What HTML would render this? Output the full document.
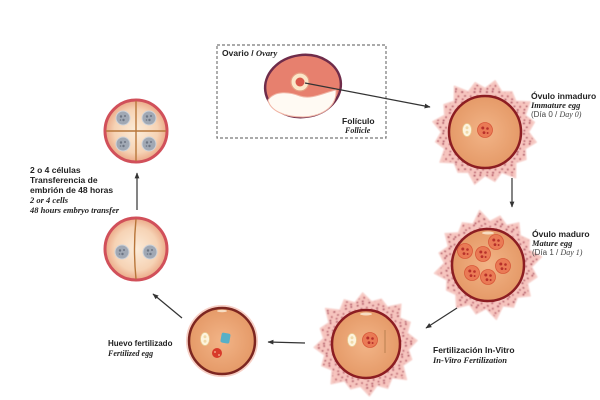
<!DOCTYPE html>
<html>
<head>
<meta charset="utf-8">
<style>
html,body{margin:0;padding:0;background:#fff;}
svg{display:block;}
.b{font-family:"Liberation Sans",sans-serif;font-weight:bold;fill:#222;}
.i{font-family:"Liberation Serif",serif;font-weight:bold;font-style:italic;fill:#222;}
.r{font-family:"Liberation Sans",sans-serif;fill:#444;}
.ri{font-family:"Liberation Serif",serif;font-style:italic;fill:#444;}
</style>
</head>
<body>
<svg width="600" height="400" viewBox="0 0 600 400" xmlns="http://www.w3.org/2000/svg">
<defs>
  <pattern id="dots" width="13" height="11" patternUnits="userSpaceOnUse">
    <rect width="13" height="11" fill="#f6c4be"/>
    <ellipse cx="2" cy="2" rx="1.2" ry="0.9" fill="#9e3049"/>
    <ellipse cx="8" cy="1.5" rx="1" ry="1.1" fill="#a83a52"/>
    <ellipse cx="5" cy="6" rx="1.1" ry="0.8" fill="#9e3049"/>
    <ellipse cx="11" cy="6.5" rx="0.9" ry="1.1" fill="#b04a5c"/>
    <ellipse cx="2.5" cy="9.5" rx="1" ry="0.8" fill="#a83a52"/>
    <ellipse cx="8.5" cy="9.8" rx="1.1" ry="0.9" fill="#9e3049"/>
  </pattern>
  <filter id="soft" x="-10%" y="-10%" width="120%" height="120%">
    <feGaussianBlur stdDeviation="0.5"/>
  </filter>
  <radialGradient id="egg" cx="50%" cy="50%" r="50%">
    <stop offset="0%" stop-color="#f2b487"/>
    <stop offset="100%" stop-color="#e59a68"/>
  </radialGradient>
  <radialGradient id="blast" cx="50%" cy="50%" r="50%">
    <stop offset="0%" stop-color="#fcecd9"/>
    <stop offset="70%" stop-color="#f6d3b5"/>
    <stop offset="100%" stop-color="#eba886"/>
  </radialGradient>
  <marker id="ah" viewBox="0 0 10 10" refX="9" refY="5" markerWidth="5" markerHeight="5" orient="auto">
    <path d="M0,1 L10,5 L0,9 z" fill="#333"/>
  </marker>
  <path id="cum" d="M46,0 L54,10.7 L42.5,17.6 L43.2,28.9 L32.5,32.5 L32.2,48.2 L17.6,42.5 L10.3,52 L0,46 L-10.9,54.9 L-17.6,42.5 L-28.4,42.4 L-32.5,32.5 L-47.4,31.7 L-42.5,17.6 L-52,10.3 L-46,0 L-54.9,-10.9 L-42.5,-17.6 L-43.2,-28.9 L-32.5,-32.5 L-32.2,-48.2 L-17.6,-42.5 L-10.3,-52 L0,-46 L10.7,-54 L17.6,-42.5 L28.4,-42.4 L32.5,-32.5 L47.4,-31.7 L42.5,-17.6 L52,-10.3 Z"/>
  <g id="nuc">
    <circle r="7.5" fill="#ea7a55" stroke="#d8583a" stroke-width="0.8"/>
    <circle cx="-2.2" cy="-2" r="1.5" fill="#b8302a"/>
    <circle cx="2.5" cy="-1.5" r="1.3" fill="#b8302a"/>
    <circle cx="-1" cy="2.6" r="1.4" fill="#b8302a"/>
    <circle cx="2.6" cy="3" r="1" fill="#b8302a"/>
  </g>
  <g id="wov">
    <ellipse rx="4.5" ry="6.5" fill="#fdf4de" stroke="#e9c98f" stroke-width="0.8"/>
    <circle cy="-2.3" r="1.5" fill="#f0d9a8"/>
    <circle cy="2.3" r="1.5" fill="#f0d9a8"/>
  </g>
  <g id="gnuc">
    <circle r="7" fill="#a0a8b4" stroke="#cfd3d9" stroke-width="1"/>
    <circle cx="-2" cy="-1.5" r="1.2" fill="#6d7583"/>
    <circle cx="2" cy="-2" r="1" fill="#6d7583"/>
    <circle cx="0.5" cy="2" r="1.2" fill="#6d7583"/>
    <circle cx="-2.5" cy="2" r="0.8" fill="#6d7583"/>
  </g>
</defs>

<!-- Ovary box -->
<rect x="217" y="45" width="169" height="93" fill="none" stroke="#777" stroke-width="1.2" stroke-dasharray="3,2"/>
<text x="222" y="56" font-size="8.5"><tspan class="b">Ovario / </tspan><tspan class="i">Ovary</tspan></text>
<ellipse cx="303" cy="86" rx="38" ry="31" transform="rotate(-8 303 86)" fill="#e7806e" stroke="#6f2c4a" stroke-width="2.5"/>
<path d="M268,100 C275,90 290,92 300,96 C312,100 325,92 336,90 C337,105 325,116 303,117 C283,117 270,110 268,100 Z" fill="#fffaf3" stroke="#f0b4a4" stroke-width="1"/>
<circle cx="300" cy="82" r="9" fill="#fbe7c8" stroke="#e59c80" stroke-width="1.2"/>
<circle cx="300" cy="82" r="4.5" fill="#d9574a"/>
<text x="342" y="124" class="b" font-size="8.5">Folículo</text>
<text x="345" y="133" class="i" font-size="8">Follicle</text>

<!-- Immature egg -->
<use href="#cum" transform="translate(485,132) scale(0.95)" fill="url(#dots)" stroke="#f8d2cd" stroke-width="1.5" stroke-linejoin="round" filter="url(#soft)"/>
<circle cx="485" cy="132" r="36" fill="url(#egg)" stroke="#8c1d22" stroke-width="2.5"/>
<use href="#wov" x="467" y="130"/>
<use href="#nuc" x="485" y="130"/>
<text x="531" y="99" class="b" font-size="8.5">Óvulo inmaduro</text>
<text x="531" y="108" class="i" font-size="8.5">Immature egg</text>
<text x="531" y="117" font-size="8"><tspan class="r">(Día 0 / </tspan><tspan class="ri">Day 0)</tspan></text>

<!-- Mature egg -->
<use href="#cum" transform="translate(488,265) rotate(25) scale(0.95)" fill="url(#dots)" stroke="#f8d2cd" stroke-width="1.5" stroke-linejoin="round" filter="url(#soft)"/>
<circle cx="488" cy="265" r="36" fill="url(#egg)" stroke="#8c1d22" stroke-width="2.5"/>
<ellipse cx="488" cy="233" rx="6" ry="1.5" fill="#f7ddc2"/>
<use href="#nuc" x="465" y="251"/>
<use href="#nuc" x="483" y="254"/>
<use href="#nuc" x="496" y="242"/>
<use href="#nuc" x="503" y="266"/>
<use href="#nuc" x="472" y="273"/>
<use href="#nuc" x="488" y="277"/>
<text x="532" y="237" class="b" font-size="8.5">Óvulo maduro</text>
<text x="532" y="246" class="i" font-size="8.5">Mature egg</text>
<text x="532" y="255" font-size="8"><tspan class="r">(Día 1 / </tspan><tspan class="ri">Day 1)</tspan></text>

<!-- IVF -->
<use href="#cum" transform="translate(366,344) rotate(-15) scale(0.93)" fill="url(#dots)" stroke="#f8d2cd" stroke-width="1.5" stroke-linejoin="round" filter="url(#soft)"/>
<circle cx="366" cy="344" r="34" fill="url(#egg)" stroke="#8c1d22" stroke-width="2.5"/>
<ellipse cx="366" cy="314" rx="6" ry="1.5" fill="#f7ddc2"/>
<use href="#wov" x="352" y="340"/>
<use href="#nuc" x="370" y="340"/>
<line x1="385" y1="330" x2="385" y2="353" stroke="#b98050" stroke-width="1"/>
<text x="433" y="353" class="b" font-size="8.5">Fertilización In-Vitro</text>
<text x="433" y="363" class="i" font-size="8.5">In-Vitro Fertilization</text>

<!-- Fertilized egg -->
<circle cx="222" cy="341" r="35" fill="none" stroke="#f7d0c6" stroke-width="2"/>
<circle cx="222" cy="341" r="33" fill="url(#egg)" stroke="#7d2620" stroke-width="2.5"/>
<ellipse cx="222" cy="311" rx="5" ry="1.3" fill="#f7ddc2"/>
<use href="#wov" x="205" y="339"/>
<rect x="221" y="333" width="9" height="10" rx="2" fill="#56b0c8" transform="rotate(10 225 338)"/>
<circle cx="217" cy="353" r="5" fill="#d83a2a"/>
<circle cx="215" cy="352" r="1" fill="#f0a080"/>
<circle cx="219" cy="355" r="1" fill="#f0a080"/>
<text x="108" y="346" class="b" font-size="8">Huevo fertilizado</text>
<text x="108" y="356" class="i" font-size="8">Fertilized egg</text>

<!-- 2-cell -->
<circle cx="136" cy="249" r="31" fill="url(#blast)" stroke="#d1505a" stroke-width="3"/>
<path d="M136,219 Q133,249 136,279" fill="none" stroke="#b8763a" stroke-width="1.4"/>
<use href="#gnuc" x="122" y="252"/>
<use href="#gnuc" x="150" y="252"/>

<!-- 4-cell -->
<circle cx="136" cy="131" r="31" fill="url(#blast)" stroke="#d1505a" stroke-width="3"/>
<line x1="106" y1="131" x2="166" y2="131" stroke="#b8763a" stroke-width="1.4"/>
<line x1="136" y1="101" x2="136" y2="161" stroke="#b8763a" stroke-width="1.4"/>
<use href="#gnuc" x="123" y="118"/>
<use href="#gnuc" x="149" y="118"/>
<use href="#gnuc" x="123" y="144"/>
<use href="#gnuc" x="149" y="144"/>

<text x="30" y="173" class="b" font-size="8.5">2 o 4 células</text>
<text x="30" y="183" class="b" font-size="8.5">Transferencia de</text>
<text x="30" y="193" class="b" font-size="8.5">embrión de 48 horas</text>
<text x="30" y="203" class="i" font-size="8.5">2 or 4 cells</text>
<text x="30" y="213" class="i" font-size="8.5">48 hours embryo transfer</text>

<!-- Arrows -->
<g stroke="#333" stroke-width="1.2" fill="none" marker-end="url(#ah)">
  <line x1="305" y1="83" x2="430" y2="107"/>
  <line x1="512" y1="178" x2="512" y2="207"/>
  <line x1="457" y1="308" x2="426" y2="328"/>
  <line x1="305" y1="343" x2="268" y2="342"/>
  <line x1="182" y1="318" x2="153" y2="294"/>
  <line x1="137" y1="210" x2="137" y2="173"/>
</g>
</svg>
</body>
</html>
